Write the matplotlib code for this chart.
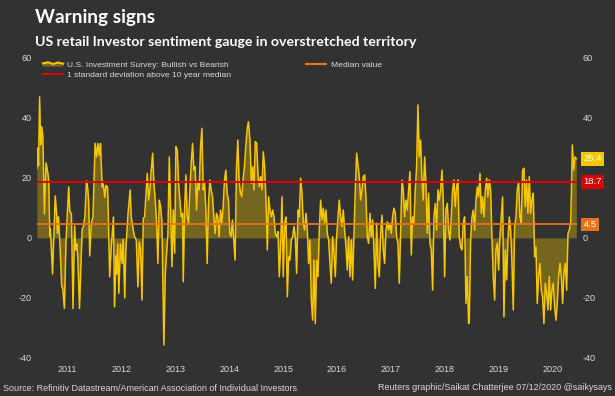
import matplotlib
matplotlib.use("Agg")
import matplotlib.pyplot as plt
from matplotlib.lines import Line2D
from matplotlib.patches import Polygon
from matplotlib.legend_handler import HandlerBase
import matplotlib.transforms as mtransforms

# AAII weekly sentiment survey, bullish minus bearish (% points), by decimal year
dates = [
    2010.93, 2010.95, 2010.96, 2010.98, 2011.00, 2011.02, 2011.04, 2011.07, 2011.10, 2011.13,
    2011.15, 2011.17, 2011.18, 2011.22, 2011.27, 2011.30, 2011.31, 2011.33, 2011.36, 2011.39,
    2011.41, 2011.44, 2011.47, 2011.52, 2011.54, 2011.57, 2011.60, 2011.63, 2011.65, 2011.67,
    2011.69, 2011.72, 2011.77, 2011.79, 2011.82, 2011.85, 2011.87, 2011.89, 2011.91, 2011.94,
    2011.97, 2012.01, 2012.04, 2012.06, 2012.09, 2012.11, 2012.14, 2012.16, 2012.19, 2012.21,
    2012.24, 2012.25, 2012.28, 2012.31, 2012.35, 2012.37, 2012.40, 2012.41, 2012.43, 2012.45,
    2012.48, 2012.51, 2012.53, 2012.56, 2012.58, 2012.62, 2012.66, 2012.68, 2012.71, 2012.74,
    2012.774, 2012.804, 2012.830, 2012.854, 2012.879, 2012.904, 2012.928, 2012.959, 2012.978, 2013.003,
    2013.027, 2013.052, 2013.077, 2013.101, 2013.126, 2013.151, 2013.175, 2013.200, 2013.225, 2013.249,
    2013.268, 2013.286, 2013.312, 2013.336, 2013.361, 2013.386, 2013.411, 2013.435, 2013.460, 2013.485,
    2013.509, 2013.534, 2013.559, 2013.583, 2013.608, 2013.633, 2013.645, 2013.670, 2013.694, 2013.719,
    2013.744, 2013.769, 2013.793, 2013.818, 2013.843, 2013.867, 2013.892, 2013.917, 2013.941, 2013.966,
    2013.991, 2014.015, 2014.040, 2014.065, 2014.089, 2014.114, 2014.139, 2014.163, 2014.188, 2014.213,
    2014.237, 2014.262, 2014.287, 2014.311, 2014.336, 2014.361, 2014.385, 2014.410, 2014.435, 2014.459,
    2014.484, 2014.509, 2014.533, 2014.558, 2014.583, 2014.607, 2014.632, 2014.657, 2014.681, 2014.706,
    2014.731, 2014.755, 2014.780, 2014.805, 2014.829, 2014.854,
    2014.883, 2014.908, 2014.932, 2014.957, 2014.982, 2015.007, 2015.031, 2015.056, 2015.081, 2015.106,
    2015.130, 2015.155, 2015.180, 2015.205, 2015.229, 2015.254, 2015.279, 2015.304, 2015.328, 2015.353,
    2015.378, 2015.403, 2015.427, 2015.452, 2015.477, 2015.501, 2015.526, 2015.551, 2015.576, 2015.600,
    2015.625, 2015.650, 2015.675, 2015.699, 2015.724, 2015.749, 2015.774, 2015.798, 2015.823, 2015.848,
    2015.872, 2015.897, 2015.922, 2015.947, 2015.971, 2015.996, 2016.021, 2016.046, 2016.070, 2016.095,
    2016.120, 2016.145, 2016.169, 2016.194, 2016.219, 2016.243, 2016.268, 2016.293, 2016.318, 2016.342,
    2016.367, 2016.392, 2016.417, 2016.441, 2016.466, 2016.491, 2016.516, 2016.540, 2016.565, 2016.590,
    2016.614, 2016.639, 2016.664, 2016.689, 2016.713, 2016.738, 2016.763, 2016.788, 2016.812, 2016.837,
    2016.862,
    2016.911, 2016.936, 2016.961, 2016.985, 2017.010, 2017.035, 2017.059, 2017.084, 2017.109, 2017.134,
    2017.158, 2017.183, 2017.208, 2017.233, 2017.257, 2017.282, 2017.307, 2017.332, 2017.356, 2017.381,
    2017.406, 2017.431, 2017.455, 2017.480, 2017.505, 2017.529, 2017.554, 2017.579, 2017.604, 2017.628,
    2017.653, 2017.678, 2017.703, 2017.727, 2017.752, 2017.777, 2017.802, 2017.826, 2017.851, 2017.876,
    2017.900, 2017.925, 2017.950, 2017.975, 2017.999, 2018.024, 2018.049, 2018.074, 2018.098, 2018.123,
    2018.148, 2018.173, 2018.197, 2018.222, 2018.247, 2018.272, 2018.296, 2018.321, 2018.346, 2018.370,
    2018.395, 2018.420, 2018.445, 2018.469, 2018.494, 2018.519, 2018.544, 2018.568, 2018.593, 2018.618,
    2018.643, 2018.667, 2018.692, 2018.717, 2018.742, 2018.766, 2018.791, 2018.816, 2018.840, 2018.865,
    2018.890, 2018.915, 2018.940,
    2018.952, 2018.977, 2019.002, 2019.026, 2019.051, 2019.076, 2019.101, 2019.125, 2019.150, 2019.175,
    2019.199, 2019.224, 2019.249, 2019.274, 2019.298, 2019.323, 2019.348, 2019.373, 2019.397, 2019.422,
    2019.447, 2019.472, 2019.496, 2019.521, 2019.546, 2019.570, 2019.595, 2019.620, 2019.645, 2019.669,
    2019.694, 2019.719, 2019.744, 2019.768, 2019.793, 2019.818, 2019.842, 2019.867, 2019.892, 2019.917,
    2019.941, 2019.966, 2019.991, 2020.016, 2020.040, 2020.065, 2020.090, 2020.114, 2020.139, 2020.164,
    2020.189, 2020.213, 2020.238, 2020.263, 2020.288, 2020.312, 2020.337, 2020.362, 2020.387, 2020.411,
    2020.436, 2020.461, 2020.485, 2020.510, 2020.535, 2020.560, 2020.584, 2020.609, 2020.634, 2020.659,
    2020.683, 2020.708, 2020.733, 2020.758,
    2020.783, 2020.808, 2020.832, 2020.845, 2020.864, 2020.889, 2020.914, 2020.938,
]

spread = [
    23, 30, 24, 47, 31, 37, 34, 8, 25, 22,
    19, 0.5, 3, -12, 14, 7, 1.5, 7, -3, -16,
    -17, -23.5, -1, 17, 9, 8, -23.5, 4, -4, -2,
    -7, -23.5, 3, 3.5, 7, 19, 17, 12.5, -6, 5,
    7, 31.5, 27, 31.5, 27.5, 31.5, 17, 18, 13.5, 17.5,
    17, 11.5, -13, -3, 7, -23, -6, -12, -2, -18.5,
    -2, -8.5, -0.5, -20, -4, 8, 16, 7, 3.5, 0.5,
    -0.7, -16.3, -1.3, -4, -20.7, 6.5, 7, 16, 21.5, 12.6,
    16, 22.6, 28.2, 18.2, 12.6, 4.9, -8.5, 12.6, 10.4, 5.4,
    -16.3, -35.7, -11.8, -5, 1.5, 27, 9.3, -9.6, 9.3, -5.1,
    30.4, 29.3, 18.2, 12.6, 7, 8.2, -14.6, 9.3, 21, 7,
    4.9, 16, 24.9, 31.5, 22.6, 23.7, 9.3, 18.7, 16, 30.4,
    36.5, 16, 18.2, 9.3, -8.5, 11.5, 19.3, 16, 13.7, 7,
    1.5, 8.2, 7, 0.4, 9.3, 4.9, 10.4, 19.3, 22.6, 14.9,
    12.6, 1.5, 0.4, 6, -0.7, -7.4, 22.6, 32.6, 19.3, 14.9,
    13.7, 19.3, 23.7, 30.4, 36, 38.7,
    32.6, 18.2, 23.7, 16, 32.1, 31.5, 21.5, 17, 20.4, 16,
    28.7, 23.7, 12.6, -4, 13.7, 9.3, 7, 9.3, 7, 1.5,
    0.4, 2.1, -12.9, -3, 13.7, -12.9, 4.9, 7, -19.6, -6.3,
    -7.4, -0.7, 0.4, 3.8, 0.4, -11.8, 9.3, 7, 19.9, 14.9,
    4.9, 2.6, 8.2, 2.6, -8.5, -0.7, -20.7, -27.4, -7.4, -28.5,
    -7.4, -12.9, 2.6, 12.6, 6, 9.9, 4.9, 9.3, 1.5, -0.7,
    -8.5, -15.1, 0.4, -5.1, -12.9, 0.4, 7, 12.6, 7, 3.8,
    9.3, 2.6, -3, -10.7, 0.4, -12.9, -0.7, -14, 0.4, 16,
    28.2,
    20.4, 12.6, 16, 20.4, 21, 13.7, 0.4, -1.8, 8.2, 0.4,
    6, -4, -16.8, 4.9, -8.5, -12.9, 1.5, 7.6, -4, -8.5,
    2.6, 5.4, 2.6, 4.9, 1.5, 7, 9.9, 8.2, 0.4, -1.8,
    -15.1, 2.6, 19.3, 16, 7, 12.6, 9.3, 16, 22.1, -5.7,
    7, 4.9, 16, 23.7, 44.3, 27, 32.6, 19.3, 12.6, 27,
    18.2, 1.5, 14.9, -1.8, -4, -17.4, 7, 11.5, 2.6, 16,
    12.6, 16, 22.6, 12.6, -12.9, 9.3, 11.5, 2.6, -0.7, 7,
    16, 19.3, 10.4, 17, 19.3, 0.4, -3, -4, 4.9, 7,
    -21.8, -12.9, -28.5,
    -27.4, -0.7, 7, 9.3, 2.6, 12.6, 17, 13.7, 21.5, 8.2,
    13.7, 7, 16, 19.9, 13.7, 19.3, 16, -0.7, -12.9, -20.7,
    -4, -1.8, -10.7, 0.4, 7, 13.7, -26.3, -4, -14, -0.7,
    7, 2.6, -8.5, -24, 3.8, 7, 16, 18.7, 7, 4.9,
    22.6, 23.2, 10.4, 19.3, 8.2, 20.4, 8.2, 12.6, 14.9, -6.3,
    -3, -21.8, -12.9, -8.5, -17.4, -19.6, -28.5, -15.1, -18.5, -24,
    -12.9, -24, -17.4, -15.1, -22.9, -27.4, -21.8, -12.9, -8.5, -12.9,
    -21.8, -11.8, -8.5, -17.4,
    1.5, 2.6, 4.9, 13.7, 31, 22.6, 27, 26.4,
]

median_value = 4.5
sd_above_median = 18.7
latest = spread[-1]

year_labels = [str(y) for y in range(2011, 2021)]
yticks = [-40, -20, 0, 20, 40, 60]
# the right-hand 20 sits under the 18.7 tag, so it is left out there
yticks_right = [-40, -20, 0, 40, 60]

BG = "#323232"
TXT = "#d9d9d9"
YELLOW = "#f7c600"
FILL = "#74651f"
RED = "#d80000"
ORANGE = "#e8731a"

plt.rcParams["font.family"] = ["Liberation Sans", "DejaVu Sans"]

fig = plt.figure(figsize=(6.15, 3.96), dpi=100, facecolor=BG)
ax = fig.add_axes([0.060, 0.096, 0.878, 0.758], facecolor=BG)

ax.fill_between(dates, spread, 0, color=FILL, lw=0, zorder=1)
ax.plot(dates, spread, color=YELLOW, lw=1.1, zorder=2)
ax.axhline(sd_above_median, color=RED, lw=1.5, zorder=3)
ax.axhline(median_value, color=ORANGE, lw=1.3, zorder=3)

ax.set_xlim(dates[0], dates[-1] + 0.01)
ax.set_ylim(-40, 60)
ax.set_yticks(yticks)
ax.set_yticklabels([str(t) for t in yticks])
ax.set_xticks([y + 0.5 for y in range(2011, 2021)])
ax.set_xticklabels(year_labels)
ax.tick_params(axis="both", length=0, colors=TXT, labelsize=6.5)
ax.tick_params(axis="x", pad=5)
for s in ax.spines.values():
    s.set_visible(False)

ax2 = ax.twinx()
ax2.set_ylim(ax.get_ylim())
ax2.set_yticks(yticks_right)
ax2.set_yticklabels([str(t) for t in yticks_right])
ax2.tick_params(axis="y", length=0, colors=TXT, labelsize=6.5, pad=4)
for s in ax2.spines.values():
    s.set_visible(False)

# value tags at the right edge
trans = mtransforms.blended_transform_factory(ax.transAxes, ax.transData)
for val, col in [(latest, YELLOW), (sd_above_median, RED), (median_value, ORANGE)]:
    ax2.text(1.012, val, "%.1f" % val, transform=trans, ha="left", va="center",
             color="white", fontsize=6.8, zorder=5,
             bbox=dict(boxstyle="square,pad=0.25", fc=col, ec="none"))


class AreaLineHandler(HandlerBase):
    # little wavy line with filled area under it, for the survey series
    def create_artists(self, legend, orig, xd, yd, w, h, fontsize, trans):
        xs = [0, 0.25, 0.5, 0.75, 1.0]
        ys = [0.55, 0.75, 0.45, 0.7, 0.5]
        pts = [(-xd + x * w, -yd + y * h) for x, y in zip(xs, ys)]
        poly = Polygon(pts + [(-xd + w, -yd), (-xd, -yd)], closed=True,
                       fc=FILL, ec="none", transform=trans)
        ln = Line2D([p[0] for p in pts], [p[1] for p in pts], color=YELLOW,
                    lw=1.5, transform=trans)
        return [poly, ln]


handles = [Line2D([], [], color=YELLOW), Line2D([], [], color=RED, lw=1.5),
           Line2D([], [], color=ORANGE, lw=1.5)]
labels = ["U.S. Investment Survey: Bullish vs Bearish",
          "1 standard deviation above 10 year median", "Median value"]
leg = ax.legend(handles, labels, ncol=2, loc="upper left", bbox_to_anchor=(0.0, 1.01),
                frameon=False, fontsize=6.1, labelcolor=TXT, handlelength=2.4,
                handletextpad=0.5, columnspacing=8.8, labelspacing=0.25, borderpad=0.2,
                handler_map={handles[0]: AreaLineHandler()})

fig.text(0.057, 0.955, "Warning signs", color="white", fontsize=13.7,
         fontweight="bold", family="Lato", va="center")
fig.text(0.057, 0.895, "US retail Investor sentiment gauge in overstretched territory",
         color="white", fontsize=10.2, fontweight="bold", family="Lato", va="center")
fig.text(0.005, 0.02, "Source: Refinitiv Datastream/American Association of Individual Investors",
         color=TXT, fontsize=6.5, va="center")
fig.text(0.995, 0.022, "Reuters graphic/Saikat Chatterjee 07/12/2020 @saikysays",
         color=TXT, fontsize=6.5, va="center", ha="right")

fig.savefig("out.png", dpi=100, facecolor=BG)
